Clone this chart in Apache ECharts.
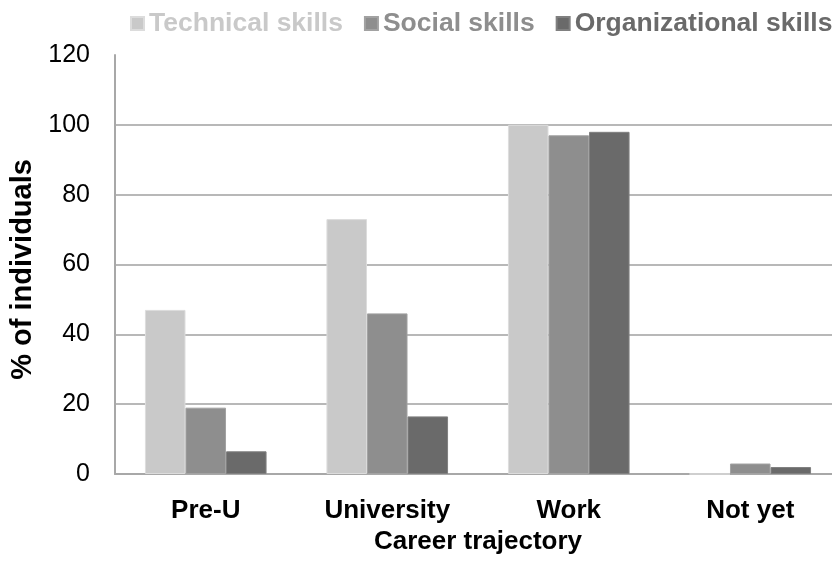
<!DOCTYPE html>
<html>
<head>
<meta charset="utf-8">
<script src="https://cdn.jsdelivr.net/npm/echarts@6/dist/echarts.min.js"></script>
<style>
  html, body { margin: 0; padding: 0; background: #fff; }
  #chart { width: 832px; height: 573px; }
</style>
</head>
<body>
<div id="chart"></div>
<script>
// Career trajectory stages
const categories = ['Pre-U', 'University', 'Work', 'Not yet'];

// Share of individuals (%) reporting each skill type at each stage
const technicalSkills = [47, 73, 100, 0];
const socialSkills = [19, 46, 97, 3];
const organizationalSkills = [6.5, 16.5, 98, 2];

const yTicks = { min: 0, max: 120, interval: 20 };

const seriesNames = ['Technical skills', 'Social skills', 'Organizational skills'];
const seriesColors = ['#c9c9c9', '#8e8e8e', '#6a6a6a'];
const seriesBorders = ['#dcdcdc', '#a2a2a2', '#808080'];
const seriesValues = [technicalSkills, socialSkills, organizationalSkills];

const FONT = '"Liberation Sans", Arial, sans-serif';

const chart = echarts.init(document.getElementById('chart'));

chart.setOption({
  animation: false,
  backgroundColor: '#ffffff',
  textStyle: { fontFamily: FONT },
  legend: {
    left: 125,
    top: 5,
    width: 780,
    icon: 'rect',
    itemWidth: 13,
    itemHeight: 13,
    itemGap: 21,
    textStyle: { fontFamily: FONT, fontSize: 26.5, fontWeight: 'bold' },
    data: seriesNames.map((name, i) => ({
      name,
      textStyle: { color: seriesColors[i] }
    }))
  },
  grid: {
    left: 115,
    top: 55,
    width: 726,
    height: 419,
    containLabel: false,
    outerBoundsMode: 'none'
  },
  xAxis: {
    type: 'category',
    data: categories,
    name: 'Career trajectory',
    nameLocation: 'middle',
    nameGap: 54,
    nameTextStyle: { fontFamily: FONT, fontSize: 26, fontWeight: 'bold', color: '#000' },
    axisLine: { show: true, lineStyle: { color: '#a8a8a8', width: 2 } },
    axisTick: { show: false },
    axisLabel: {
      fontFamily: FONT,
      fontSize: 26,
      fontWeight: 'bold',
      color: '#000',
      margin: 24
    }
  },
  yAxis: {
    type: 'value',
    min: yTicks.min,
    max: yTicks.max,
    interval: yTicks.interval,
    name: '% of individuals',
    nameLocation: 'middle',
    nameRotate: 90,
    nameGap: 78,
    nameTextStyle: {
      fontFamily: FONT,
      fontSize: 29,
      fontWeight: 'bold',
      color: '#000',
      padding: [0, 10, 0, 0]
    },
    axisLine: { show: true, lineStyle: { color: '#a8a8a8', width: 2 } },
    axisTick: { show: false },
    axisLabel: {
      fontFamily: FONT,
      fontSize: 25,
      color: '#000',
      margin: 25
    },
    splitLine: {
      show: true,
      showMaxLine: false,
      lineStyle: { color: '#b8b8b8', width: 2 }
    }
  },
  series: seriesNames.map((name, i) => ({
    name,
    type: 'bar',
    data: seriesValues[i],
    barGap: '0%',
    barCategoryGap: '33%',
    itemStyle: {
      color: seriesColors[i],
      borderColor: seriesBorders[i],
      borderWidth: 1
    }
  }))
});
</script>
</body>
</html>
